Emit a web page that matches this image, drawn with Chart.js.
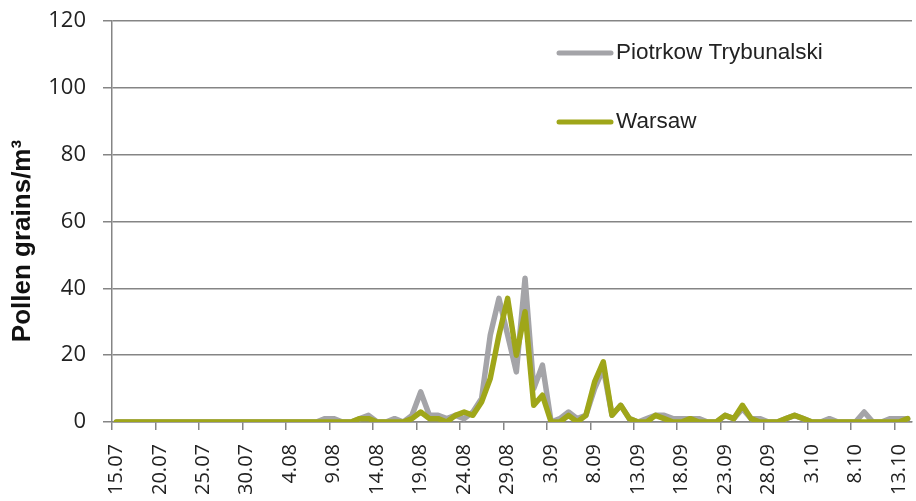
<!DOCTYPE html>
<html><head><meta charset="utf-8">
<script src="https://cdn.jsdelivr.net/npm/chart.js@4"></script>
<style>html,body{margin:0;padding:0;background:#fff}#wrap{width:916px;height:501px;position:relative}</style>
</head><body><div id="wrap"><canvas id="c" width="916" height="501"></canvas></div>
<script>
const dates = [
  '15.07','16.07','17.07','18.07','19.07','20.07','21.07','22.07','23.07','24.07',
  '25.07','26.07','27.07','28.07','29.07','30.07','31.07','1.08','2.08','3.08',
  '4.08','5.08','6.08','7.08','8.08','9.08','10.08','11.08','12.08','13.08',
  '14.08','15.08','16.08','17.08','18.08','19.08','20.08','21.08','22.08','23.08',
  '24.08','25.08','26.08','27.08','28.08','29.08','30.08','31.08','1.09','2.09',
  '3.09','4.09','5.09','6.09','7.09','8.09','9.09','10.09','11.09','12.09',
  '13.09','14.09','15.09','16.09','17.09','18.09','19.09','20.09','21.09','22.09',
  '23.09','24.09','25.09','26.09','27.09','28.09','29.09','30.09','1.10','2.10',
  '3.10','4.10','5.10','6.10','7.10','8.10','9.10','10.10','11.10','12.10',
  '13.10','14.10'
];
const piotrkow = [
  0,0,0,0,0,0,0,0,0,0,
  0,0,0,0,0,0,0,0,0,0,
  0,0,0,0,1,1,0,0,1,2,
  0,0,1,0,2,9,2,2,1,2,
  1,3,7,26,37,26,15,43,10,17,
  0,1,3,1,2,10,16,2,5,1,
  0,1,2,2,1,1,1,1,0,0,
  2,1,4,1,1,0,0,1,2,1,
  0,0,1,0,0,0,3,0,0,1,
  1,1
];
const warsaw = [
  0,0,0,0,0,0,0,0,0,0,
  0,0,0,0,0,0,0,0,0,0,
  0,0,0,0,0,0,0,0,1,1,
  0,0,0,0,1,3,1,1,0,2,
  3,2,6,13,26,37,20,33,5,8,
  0,0,2,0,2,12,18,2,5,1,
  0,0,2,1,0,0,1,0,0,0,
  2,1,5,1,0,0,0,1,2,1,
  0,0,0,0,0,0,0,0,0,0,
  0,1
];
const seriesNames = ['Piotrkow Trybunalski', 'Warsaw'];
const yAxisTitle = 'Pollen grains/m\u00B3';
const yMin = 0, yMax = 120, yStep = 20;
const labelEvery = 5;

const GRID = '#858585';
const GRAY = '#a4a4a8';
const GREEN = '#9fa619';
const TXT = '#222222';

const overlay = {
  id: 'overlay',
  afterDraw(chart) {
    const ctx = chart.ctx;
    ctx.save();
    ctx.translate(23, 241);
    ctx.rotate(-Math.PI / 2);
    ctx.font = 'bold 26px "Liberation Sans", Arial, sans-serif';
    ctx.fillStyle = '#111';
    ctx.textAlign = 'center';
    ctx.textBaseline = 'middle';
    ctx.fillText(yAxisTitle, 0, 0);
    ctx.restore();

    const ys = [53, 122];
    chart.data.datasets.forEach((ds, i) => {
      const y = ys[i];
      ctx.save();
      ctx.strokeStyle = ds.borderColor;
      ctx.lineWidth = 5;
      ctx.lineCap = 'round';
      ctx.beginPath();
      ctx.moveTo(559, y);
      ctx.lineTo(611, y);
      ctx.stroke();
      ctx.font = '22.5px "Liberation Sans", Arial, sans-serif';
      ctx.fillStyle = TXT;
      ctx.textAlign = 'left';
      ctx.textBaseline = 'middle';
      ctx.fillText(ds.label, 616, y);
      ctx.restore();
    });
  }
};

function noPad(s) {
  s.paddingLeft = 0; s.paddingRight = 0; s.paddingTop = 0; s.paddingBottom = 0;
}

new Chart(document.getElementById('c'), {
  type: 'line',
  data: {
    labels: dates,
    datasets: [
      { label: seriesNames[0], data: piotrkow, borderColor: GRAY, backgroundColor: GRAY,
        borderWidth: 5.5, pointRadius: 0, tension: 0, order: 1,
        borderJoinStyle: 'round', borderCapStyle: 'round' },
      { label: seriesNames[1], data: warsaw, borderColor: GREEN, backgroundColor: GREEN,
        borderWidth: 5.5, pointRadius: 0, tension: 0, order: 0,
        borderJoinStyle: 'round', borderCapStyle: 'round' }
    ]
  },
  options: {
    responsive: false,
    animation: false,
    layout: { padding: { top: 21, right: 4, left: 0, bottom: 0 } },
    plugins: { legend: { display: false }, tooltip: { enabled: false }, title: { display: false } },
    scales: {
      x: {
        type: 'category',
        offset: true,
        grid: {
          offset: true,
          drawOnChartArea: false,
          drawTicks: true,
          tickLength: 8,
          lineWidth: 1.5,
          color: (c) => (c.index !== undefined && c.index % labelEvery === 0) ? GRID : 'rgba(0,0,0,0)'
        },
        border: { display: true, color: GRID, width: 1.5 },
        ticks: {
          autoSkip: false,
          minRotation: 90,
          maxRotation: 90,
          padding: 14,
          color: TXT,
          font: { family: '"Open Sans", sans-serif', size: 20 },
          callback: function (val, idx) { return idx % labelEvery === 0 ? this.getLabelForValue(val) : ''; }
        },
        afterFit: (s) => { s.height = 79; noPad(s); }
      },
      y: {
        min: yMin, max: yMax,
        grid: { color: GRID, lineWidth: 1.5, drawTicks: true, tickLength: 9 },
        border: { display: true, color: GRID, width: 1.5 },
        ticks: {
          stepSize: yStep,
          padding: 17,
          color: TXT,
          font: { family: '"Open Sans", sans-serif', size: 22 }
        },
        afterFit: (s) => { s.width = 112; noPad(s); }
      }
    }
  },
  plugins: [overlay]
});
</script>
</body></html>
